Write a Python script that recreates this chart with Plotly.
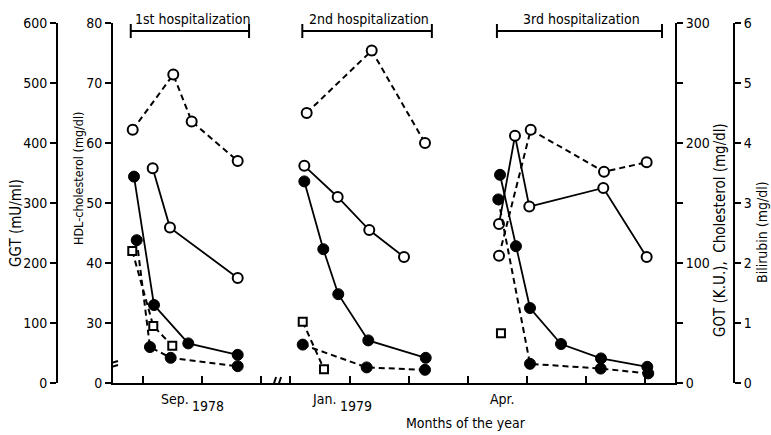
import plotly.graph_objects as go

# x positions in "months along the broken time axis" (tick = month boundary)
month_ticks = [1, 2, 3, 3.5, 4.5, 5.5, 6.5, 7.5, 8.5, 9.5]
month_labels = ["Sep.", "Jan.", "Apr."]
month_label_x = [1.54, 4.07, 7.09]
year_labels = ["1978", "1979"]
year_label_x = [2.11, 4.60]

hosp_names = ["1st hospitalization", "2nd hospitalization", "3rd hospitalization"]
hosp_start = [0.80, 3.70, 6.99]
hosp_end = [2.80, 5.89, 9.78]

# Cholesterol (mg/dl) - open circles, dashed
chol_x = [0.833, 1.519, 1.830, 2.608, None, 3.774, 4.873, 5.774, None, 7.025, 7.561, 8.800, 9.521]
chol_y = [211, 257, 218, 185, None, 225, 277, 200, None, 106, 211, 176, 184]

# HDL-cholesterol (mg/dl) - open circles, solid
hdl_x = [1.171, 1.463, 2.608, None, 3.734, 4.298, 4.832, 5.419, None, 7.025, 7.295, 7.537, 8.788, 9.521]
hdl_y = [55.8, 45.9, 37.5, None, 56.2, 51.0, 45.5, 41.0, None, 46.5, 61.2, 49.4, 52.5, 41.0]

# GGT (mU/ml) - filled circles, solid
ggt_x = [0.855, 1.193, 1.773, 2.608, None, 3.734, 4.055, 4.308, 4.815, 5.786, None,
         7.042, 7.312, 7.549, 8.073, 8.749, 9.532]
ggt_y = [344, 130, 66, 47, None, 336, 223, 148, 71, 42, None, 347, 228, 125, 65, 41, 27]

# GOT (K.U.) - filled circles, dashed
got_x = [0.901, 1.125, 1.475, 2.608, None, 3.707, 4.788, 5.774, None, 7.013, 7.549, 8.744, 9.548]
got_y = [119, 30, 21, 14, None, 32, 13, 11, None, 153, 16, 12, 8]

# Bilirubin (mg/dl) - open squares, dashed
bili_x = [0.826, 1.181, 1.502, None, 3.707, 4.067, None, 7.058]
bili_y = [2.2, 0.95, 0.62, None, 1.02, 0.23, None, 0.83]

ggt_ticks = [0, 100, 200, 300, 400, 500, 600]
hdl_ticks = [20, 30, 40, 50, 60, 70, 80]
hdl_ticktext = ["0", "30", "40", "50", "60", "70", "80"]
got_ticks = [0, 50, 100, 150, 200, 250, 300]
got_ticktext = ["0", "", "100", "", "200", "", "300"]
bili_ticks = [0, 1, 2, 3, 4, 5, 6]

FONT = "Liberation Sans Narrow, DejaVu Sans Condensed, Arial Narrow, sans-serif"
OFF = 0  # body margin removed via post_script
W, H = 771 - OFF, 435 - OFF
ML = 57 - OFF
MT = 23 - OFF
MR = W - (734 - OFF)
MB = H - (383 - OFF)
PW = W - ML - MR
PH = H - MT - MB

def px_x(p):
    return (p - OFF - ML) / PW

def px_y(p):
    return (H - MB - (p - OFF)) / PH

fig = go.Figure()

open_marker = dict(symbol="circle", size=10, color="white", line=dict(color="black", width=2))
fill_marker = dict(symbol="circle", size=11, color="black", line=dict(color="black", width=1))
sq_marker = dict(symbol="square", size=8, color="white", line=dict(color="black", width=2))
DASH = "6px,4px"

fig.add_trace(go.Scatter(x=bili_x, y=bili_y, yaxis="y4", mode="lines+markers",
                         line=dict(color="black", width=2, dash=DASH), marker=sq_marker,
                         name="Bilirubin", connectgaps=False))
fig.add_trace(go.Scatter(x=got_x, y=got_y, yaxis="y3", mode="lines+markers",
                         line=dict(color="black", width=2, dash=DASH), marker=fill_marker,
                         name="GOT", connectgaps=False))
fig.add_trace(go.Scatter(x=ggt_x, y=ggt_y, yaxis="y", mode="lines+markers",
                         line=dict(color="black", width=1.8), marker=fill_marker,
                         name="GGT", connectgaps=False))
fig.add_trace(go.Scatter(x=chol_x, y=chol_y, yaxis="y3", mode="lines+markers",
                         line=dict(color="black", width=2, dash=DASH), marker=open_marker,
                         name="Cholesterol", connectgaps=False))
fig.add_trace(go.Scatter(x=hdl_x, y=hdl_y, yaxis="y2", mode="lines+markers",
                         line=dict(color="black", width=1.8), marker=open_marker,
                         name="HDL-cholesterol", connectgaps=False))

axis_common = dict(showline=True, linecolor="black", linewidth=2, ticks="outside",
                   ticklen=6, tickwidth=2, tickcolor="black", showgrid=False,
                   zeroline=False, tickfont=dict(family=FONT, size=14, color="black"))

d0 = px_x(113)
d1 = px_x(675)

fig.update_layout(
    width=W, height=H,
    margin=dict(l=ML, r=MR, t=MT, b=MB),
    paper_bgcolor="white", plot_bgcolor="white",
    showlegend=False,
    hovermode=False,
    font=dict(family=FONT, size=14, color="black"),
    xaxis=dict(domain=[d0, d1], range=[0.5, 10], anchor="y", showline=True,
               linecolor="black", linewidth=2, ticks="inside", ticklen=7, tickwidth=2,
               tickcolor="black", tickvals=month_ticks, showticklabels=False,
               showgrid=False, zeroline=False),
    yaxis=dict(range=[0, 600], anchor="free", position=0, side="left",
               tickvals=ggt_ticks, **axis_common),
    yaxis2=dict(range=[20, 80], overlaying="y", anchor="x", side="left",
                tickvals=hdl_ticks, ticktext=hdl_ticktext, **axis_common),
    yaxis3=dict(range=[0, 300], overlaying="y", anchor="x", side="right",
                tickvals=got_ticks, ticktext=got_ticktext, **axis_common),
    yaxis4=dict(range=[0, 6], overlaying="y", anchor="free", position=1, side="right",
                tickvals=bili_ticks, **axis_common),
)

shapes = []
annotations = []
# hospitalization brackets
yb = px_y(31)
for name, s, e in zip(hosp_names, hosp_start, hosp_end):
    shapes.append(dict(type="line", xref="x", yref="paper", x0=s, x1=e, y0=yb, y1=yb,
                       line=dict(color="black", width=2)))
    for xx in (s, e):
        shapes.append(dict(type="line", xref="x", yref="paper", x0=xx, x1=xx,
                           y0=px_y(38), y1=px_y(24), line=dict(color="black", width=2)))
    annotations.append(dict(text=name, xref="x", yref="paper", x=(s + e) / 2 + 0.04,
                            y=px_y(19), showarrow=False, xanchor="center", yanchor="middle",
                            font=dict(family=FONT, size=14)))

# axis breaks
for off in (0, 5):
    shapes.append(dict(type="line", xref="x", yref="y", xsizemode="pixel", ysizemode="pixel",
                       xanchor=3.24, yanchor=0, x0=-3 + off, x1=1 + off, y0=-6, y1=6,
                       line=dict(color="black", width=2)))
for off in (0, 4):
    shapes.append(dict(type="line", xref="x", yref="y2", xsizemode="pixel", ysizemode="pixel",
                       xanchor=0.5, yanchor=23, x0=-5, x1=5, y0=-3 + off, y1=0 + off,
                       line=dict(color="black", width=2)))

for lab, xx in zip(month_labels, month_label_x):
    annotations.append(dict(text=lab, xref="x", yref="paper", x=xx, y=px_y(399),
                            showarrow=False, xanchor="center", yanchor="middle",
                            font=dict(family=FONT, size=14)))
for lab, xx in zip(year_labels, year_label_x):
    annotations.append(dict(text=lab, xref="x", yref="paper", x=xx, y=px_y(406),
                            showarrow=False, xanchor="center", yanchor="middle",
                            font=dict(family=FONT, size=14)))
annotations.append(dict(text="Months of the year", xref="paper", yref="paper",
                        x=px_x(466), y=px_y(423), showarrow=False,
                        xanchor="center", yanchor="middle", font=dict(family=FONT, size=14)))

titles = [("GGT (mU/ml)", 16, 223, 15), ("HDL-cholesterol (mg/dl)", 78, 178, 12.5),
          ("GOT (K.U.),  Cholesterol (mg/dl)", 720, 230, 15), ("Bilirubin (mg/dl)", 762, 232, 14)]
for t, xp, yp, fs in titles:
    annotations.append(dict(text=t, xref="paper", yref="paper", x=px_x(xp), y=px_y(yp),
                            showarrow=False, textangle=-90, xanchor="center",
                            yanchor="middle", font=dict(family=FONT, size=fs)))

fig.update_layout(shapes=shapes, annotations=annotations)
fig.write_html("out.html", config={"displayModeBar": False, "staticPlot": True},
               post_script="document.body.style.margin='0';document.body.style.overflow='hidden';")
